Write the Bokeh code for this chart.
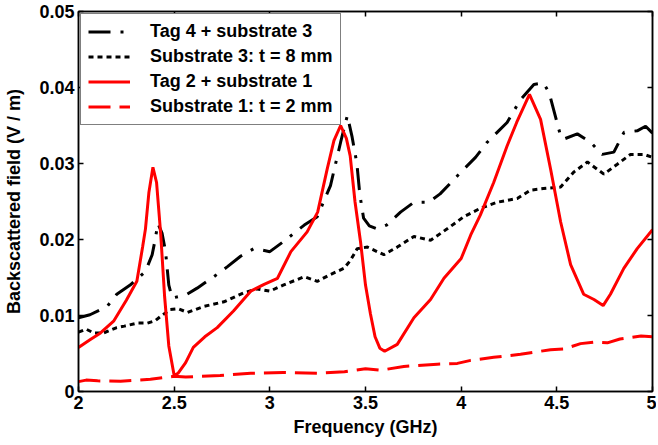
from bokeh.plotting import figure
from bokeh.models import LinearAxis, FixedTicker, Legend, LegendItem, Range1d
from bokeh.embed import file_html
from bokeh.resources import INLINE

# ---- data ----
tag4_x = [2.0, 2.06, 2.15, 2.2, 2.27, 2.35, 2.385, 2.40, 2.415, 2.437, 2.455, 2.472, 2.49,
          2.56, 2.62, 2.707, 2.777, 2.847, 2.916, 2.96, 3.0, 3.07, 3.18, 3.248, 3.317, 3.37,
          3.405, 3.43, 3.455, 3.47, 3.49, 3.52, 3.56, 3.61, 3.683, 3.753, 3.83, 3.89, 4.0,
          4.075, 4.136, 4.188, 4.24, 4.31, 4.38, 4.43, 4.46, 4.52, 4.535, 4.607, 4.676, 4.737,
          4.798, 4.851, 4.92, 4.964, 5.0]
tag4_y = [0.0097, 0.0101, 0.0112, 0.0128, 0.0140, 0.0158, 0.0180, 0.0199, 0.0221, 0.0208,
          0.0184, 0.0140, 0.0123, 0.0127, 0.0136, 0.0151, 0.0164, 0.0178, 0.0188, 0.0186,
          0.0184, 0.0197, 0.0219, 0.0230, 0.0271, 0.0328, 0.0363, 0.0335, 0.0300, 0.0260,
          0.0228, 0.0218, 0.0214, 0.0219, 0.0236, 0.0249, 0.0249, 0.0260, 0.0289, 0.0308,
          0.0328, 0.0341, 0.0354, 0.0384, 0.0404, 0.0406, 0.0393, 0.0336, 0.0332, 0.0339,
          0.0328, 0.0312, 0.0315, 0.0341, 0.0343, 0.0349, 0.0340]

sub3_x = [2.0, 2.04, 2.08, 2.13, 2.2, 2.24, 2.307, 2.36, 2.40, 2.43, 2.48, 2.52, 2.57, 2.655,
          2.76, 2.864, 2.934, 3.0, 3.07, 3.18, 3.248, 3.317, 3.387, 3.42, 3.457, 3.51, 3.596,
          3.666, 3.753, 3.84, 3.927, 4.014, 4.1, 4.188, 4.293, 4.363, 4.43, 4.52, 4.59, 4.66,
          4.746, 4.816, 4.885, 4.955, 5.0]
sub3_y = [0.0078, 0.0082, 0.0077, 0.0077, 0.0084, 0.0086, 0.0090, 0.0090, 0.0093, 0.0099,
          0.0108, 0.0109, 0.0104, 0.0112, 0.0118, 0.0130, 0.0135, 0.0132, 0.0140, 0.0151,
          0.0145, 0.0154, 0.0162, 0.0172, 0.0188, 0.0190, 0.0180, 0.0190, 0.0204, 0.0199,
          0.0214, 0.0230, 0.0241, 0.0249, 0.0254, 0.0265, 0.0267, 0.0269, 0.0289, 0.0302,
          0.0286, 0.0299, 0.0312, 0.0312, 0.0308]

tag2_x = [2.0, 2.06, 2.115, 2.185, 2.25, 2.305, 2.335, 2.35, 2.368, 2.389, 2.408, 2.43, 2.45,
          2.472, 2.50, 2.52, 2.56, 2.60, 2.66, 2.725, 2.81, 2.90, 2.97, 3.04, 3.11, 3.195,
          3.25, 3.30, 3.335, 3.37, 3.40, 3.42, 3.445, 3.475, 3.50, 3.526, 3.55, 3.575, 3.60,
          3.666, 3.753, 3.84, 3.91, 4.0, 4.05, 4.10, 4.17, 4.24, 4.29, 4.357, 4.415, 4.467,
          4.52, 4.572, 4.64, 4.694, 4.742, 4.78, 4.85, 4.92, 5.0]
tag2_y = [0.0058, 0.0068, 0.0077, 0.0093, 0.0120, 0.0145, 0.0190, 0.0214, 0.0262, 0.0295,
          0.0275, 0.0206, 0.0125, 0.0060, 0.0021, 0.0024, 0.0038, 0.0058, 0.0072, 0.0084,
          0.0106, 0.0132, 0.0141, 0.0149, 0.0184, 0.0210, 0.0236, 0.0293, 0.0330, 0.0350,
          0.0333, 0.0310, 0.0250, 0.0195, 0.0140, 0.0102, 0.0072, 0.0057, 0.0053, 0.0062,
          0.0097, 0.0121, 0.0149, 0.0175, 0.0206, 0.0232, 0.0275, 0.0323, 0.0354, 0.0391,
          0.0358, 0.0293, 0.0223, 0.0167, 0.0128, 0.0121, 0.0113, 0.0128, 0.0162, 0.0188,
          0.0213]

sub1_x = [2.0, 2.04, 2.1, 2.22, 2.376, 2.5, 2.56, 2.74, 2.9, 3.07, 3.25, 3.39, 3.5, 3.58,
          3.7, 3.875, 3.98, 4.05, 4.17, 4.31, 4.467, 4.537, 4.624, 4.694, 4.764, 4.83, 4.94, 5.0]
sub1_y = [0.0013, 0.0015, 0.0014, 0.00135, 0.0016, 0.0020, 0.0019, 0.0021, 0.0024, 0.0025,
          0.0024, 0.0026, 0.0030, 0.0028, 0.0033, 0.0036, 0.0037, 0.0041, 0.0045, 0.0049,
          0.0055, 0.0056, 0.0063, 0.0065, 0.0064, 0.0069, 0.0073, 0.0072]

series_labels = ["Tag 4 + substrate 3", "Substrate 3: t = 8 mm",
                 "Tag 2 + substrate 1", "Substrate 1: t = 2 mm"]

x_ticks = [2, 2.5, 3, 3.5, 4, 4.5, 5]
x_tick_labels = ["2", "2.5", "3", "3.5", "4", "4.5", "5"]
y_ticks = [0, 0.01, 0.02, 0.03, 0.04, 0.05]
y_tick_labels = ["0", "0.01", "0.02", "0.03", "0.04", "0.05"]

FONT = "Liberation Sans"

p = figure(width=656, height=443, output_backend="svg", toolbar_location=None,
           x_range=Range1d(2, 5), y_range=Range1d(0, 0.05),
           min_border_left=78, min_border_right=4, min_border_top=11, min_border_bottom=52,
           x_axis_label="Frequency (GHz)", y_axis_label="Backscattered field (V / m)")
p.grid.visible = False
p.outline_line_color = "black"
p.outline_line_width = 1.5
p.background_fill_color = "white"
p.border_fill_color = "white"

r1 = p.line(tag4_x, tag4_y, line_color="black", line_width=3, line_dash="22 10 3 10")
r2 = p.line(sub3_x, sub3_y, line_color="black", line_width=3, line_dash="5 4")
r3 = p.line(tag2_x, tag2_y, line_color="#ff0000", line_width=3)
r4 = p.line(sub1_x, sub1_y, line_color="#ff0000", line_width=3, line_dash="22 9")

xt = FixedTicker(ticks=x_ticks)
yt = FixedTicker(ticks=y_ticks)
p.xaxis.ticker = xt
p.yaxis.ticker = yt
p.xaxis.major_label_overrides = dict(zip(x_ticks, x_tick_labels))
p.yaxis.major_label_overrides = dict(zip(y_ticks, y_tick_labels))


def style_axis(ax):
    ax.major_tick_in = 5
    ax.major_tick_out = 0
    ax.minor_tick_line_color = None
    ax.axis_line_width = 1.5
    ax.major_tick_line_width = 1.5
    ax.axis_line_color = "black"
    ax.major_tick_line_color = "black"
    ax.major_label_text_font = FONT
    ax.major_label_text_font_style = "bold"
    ax.major_label_text_font_size = "18px"
    ax.major_label_text_color = "black"
    ax.axis_label_text_font = FONT
    ax.axis_label_text_font_style = "bold"
    ax.axis_label_text_font_size = "18px"
    ax.axis_label_text_color = "black"


for ax in p.xaxis + p.yaxis:
    style_axis(ax)
p.xaxis.major_label_standoff = 4
p.xaxis.axis_label_standoff = 5
p.yaxis.major_label_standoff = 4
p.yaxis.axis_label_standoff = 12

# top and right axes carry only the inward ticks (box style)
top = LinearAxis(ticker=xt, major_label_standoff=0)
right = LinearAxis(ticker=yt, major_label_standoff=0)
for ax, ticks in ((top, x_ticks), (right, y_ticks)):
    style_axis(ax)
    ax.major_label_overrides = {t: "" for t in ticks}
p.add_layout(top, "above")
p.add_layout(right, "right")

legend = Legend(items=[LegendItem(label=series_labels[0], renderers=[r1]),
                       LegendItem(label=series_labels[1], renderers=[r2]),
                       LegendItem(label=series_labels[2], renderers=[r3]),
                       LegendItem(label=series_labels[3], renderers=[r4])],
                location="top_left")
legend.label_text_font = FONT
legend.label_text_font_style = "bold"
legend.label_text_font_size = "18px"
legend.label_text_color = "black"
legend.glyph_width = 42
legend.glyph_height = 21
legend.label_height = 21
legend.label_standoff = 20
legend.spacing = 4
legend.padding = 7
legend.margin = 2
legend.border_line_color = "black"
legend.border_line_width = 1.5
legend.background_fill_alpha = 1
p.add_layout(legend)

open("out.html", "w").write(file_html(p, INLINE))
